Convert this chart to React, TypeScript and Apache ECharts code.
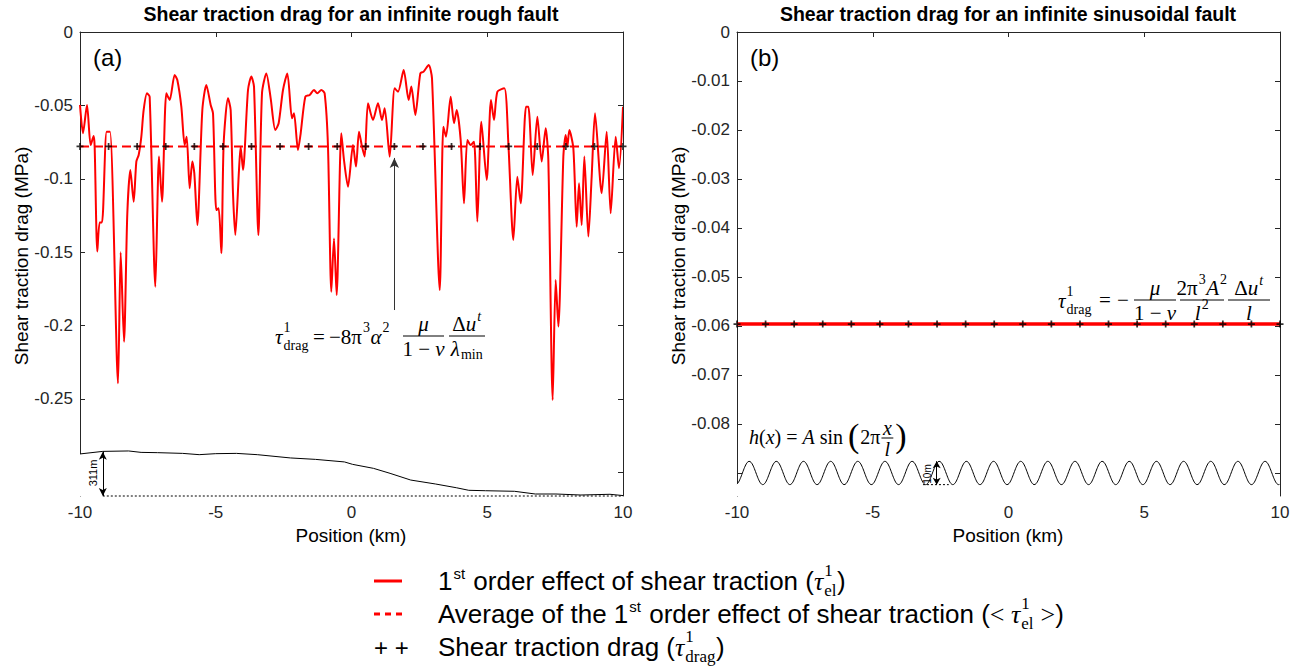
import React, { useEffect, useRef } from "react";
import * as echarts from "echarts";

// ---------- data ----------
const roughKm = [-10.0, -9.89, -9.742, -9.607, -9.497, -9.46, -9.362, -9.276, -9.19, -9.018, -8.895, -8.6, -8.502, -8.379, -8.257, -8.146, -8.023, -7.925, -7.839, -7.741, -7.655, -7.532, -7.434, -7.225, -7.09, -6.98, -6.82, -6.697, -6.513, -6.415, -6.268, -6.145, -6.071, -5.961, -5.862, -5.789, -5.678, -5.494, -5.347, -5.187, -5.101, -4.979, -4.893, -4.794, -4.708, -4.549, -4.451, -4.365, -4.279, -4.144, -4.083, -3.996, -3.812, -3.689, -3.591, -3.43, -3.297, -3.137, -2.977, -2.806, -2.683, -2.523, -2.364, -2.192, -2.118, -1.971, -1.872, -1.701, -1.541, -1.381, -1.259, -1.111, -0.989, -0.866, -0.743, -0.645, -0.547, -0.375, -0.277, -0.129, 0.055, 0.166, 0.276, 0.387, 0.485, 0.608, 0.792, 0.976, 1.123, 1.222, 1.406, 1.59, 1.713, 1.921, 2.105, 2.204, 2.351, 2.535, 2.658, 2.842, 2.965, 3.25, 3.383, 3.481, 3.653, 3.776, 3.874, 4.021, 4.144, 4.267, 4.39, 4.512, 4.635, 4.782, 4.979, 5.138, 5.249, 5.372, 5.63, 5.777, 5.961, 6.108, 6.231, 6.428, 6.514, 6.673, 6.845, 7.005, 7.152, 7.25, 7.41, 7.52, 7.619, 7.803, 7.889, 7.95, 8.024, 8.171, 8.294, 8.38, 8.478, 8.576, 8.724, 8.846, 8.969, 9.215, 9.399, 9.546, 9.73, 9.853, 10.0];
const roughTau = [-0.0497, -0.069, -0.0497, -0.077, -0.0709, -0.0781, -0.1496, -0.1297, -0.1297, -0.0679, -0.0679, -0.2393, -0.1501, -0.211, -0.1235, -0.094, -0.1156, -0.0883, -0.0838, -0.0713, -0.0531, -0.0418, -0.0441, -0.1735, -0.0849, -0.1156, -0.0418, -0.0463, -0.0293, -0.0327, -0.0509, -0.077, -0.0713, -0.1065, -0.0883, -0.0963, -0.1315, -0.0531, -0.0361, -0.0497, -0.0554, -0.1213, -0.1201, -0.1508, -0.0758, -0.0452, -0.0531, -0.1099, -0.1383, -0.094, -0.0781, -0.094, -0.0395, -0.0304, -0.0372, -0.1383, -0.0418, -0.0282, -0.0452, -0.0668, -0.0622, -0.0395, -0.0282, -0.0588, -0.0554, -0.0804, -0.069, -0.0441, -0.0429, -0.0395, -0.0418, -0.0395, -0.0418, -0.0781, -0.1769, -0.1406, -0.1792, -0.069, -0.0872, -0.1054, -0.077, -0.0917, -0.0679, -0.0781, -0.0849, -0.0486, -0.0599, -0.0486, -0.0599, -0.052, -0.0849, -0.0384, -0.0407, -0.0259, -0.0463, -0.0372, -0.0565, -0.0282, -0.027, -0.0225, -0.0316, -0.1758, -0.0645, -0.0713, -0.0441, -0.0622, -0.0531, -0.0736, -0.1167, -0.0736, -0.077, -0.0747, -0.1292, -0.0611, -0.1008, -0.0463, -0.0599, -0.0407, -0.0384, -0.0758, -0.1417, -0.0986, -0.1167, -0.0509, -0.0509, -0.0974, -0.0577, -0.0883, -0.0656, -0.0872, -0.2507, -0.1689, -0.2007, -0.0849, -0.0702, -0.0781, -0.0668, -0.0793, -0.1326, -0.1031, -0.1315, -0.0849, -0.1394, -0.0986, -0.0554, -0.1099, -0.0679, -0.1235, -0.0713, -0.0929, -0.0509];
const roughAvg = -0.078;
const roughDrag = -0.078;
const dragKm = [-10, -8.947, -7.895, -6.842, -5.789, -4.737, -3.684, -2.632, -1.579, -0.526, 0.526, 1.579, 2.632, 3.684, 4.737, 5.789, 6.842, 7.895, 8.947, 10];
const dragArrowKm = 1.579;

const topoKm = [-10, -9.16, -8.21, -7.75, -7.14, -6.22, -5.61, -5.0, -4.24, -3.47, -2.25, -1.33, -0.26, 0.04, 0.81, 1.42, 2.18, 3.1, 3.86, 4.32, 4.94, 6.0, 6.77, 7.53, 8.45, 9.52, 10];
const topoElevM = [295, 313, 316, 306, 304, 299, 290, 297, 299, 290, 267, 257, 239, 222, 194, 159, 112, 84, 58, 40, 37, 33, 14, 14, 7, 12, 3];
const topoReliefM = 311;
const topoReliefKm = -9.16;

const sinTau = -0.0596;
const sinDrag = -0.0596;
const sinAmpM = 5; // h(x) = A sin(2 pi x / l), 10 m peak to peak
const sinWaveKm = 1;
const sinPhaseKm = -9.8;
const sinArrowKm = -2.645;

const xTicks = [-10, -5, 0, 5, 10];
const yLabelsA = [0, -0.05, -0.1, -0.15, -0.2, -0.25];
const yTicksA = [0, -0.05, -0.1, -0.15, -0.2, -0.25, -0.3];
const yLabelsB = [0, -0.01, -0.02, -0.03, -0.04, -0.05, -0.06, -0.07, -0.08];
const yTicksB = [0, -0.01, -0.02, -0.03, -0.04, -0.05, -0.06, -0.07, -0.08, -0.09];

// ---------- display scaling of profiles inside the stress axes ----------
const yMinA = -0.3161;
const yMinB = -0.0947;
const topoScale = 0.0302 / 311; // axis units per metre
const sinBase = -0.09;
const sinScale = 0.00238 / 5; // axis units per metre

const RED = "#ff0000";
const AX = "#262626";
const SERIF = '"Liberation Serif", "Times New Roman", serif';
const SANS = '"Liberation Sans", Arial, Helvetica, sans-serif';

// ---------- text helpers ----------
type Seg = { t?: string; s: number; it?: boolean; f?: string; dy?: number; sup?: string; sub?: string; ss?: number; supDy?: number; subDy?: number; pad?: number; supIt?: boolean };
let ctx: CanvasRenderingContext2D | null = null;
function fontOf(s: number, it?: boolean, f?: string, bold?: boolean) {
  return `${it ? "italic " : ""}${bold ? "bold " : ""}${s}px ${f ?? SERIF}`;
}
function tw(t: string, font: string) {
  if (!ctx) ctx = document.createElement("canvas").getContext("2d");
  ctx!.font = font;
  return ctx!.measureText(t).width;
}
function T(x: number, y: number, t: string, font: string, o: any = {}) {
  return {
    type: "text", x, y, rotation: o.rot ?? 0, silent: true, z: 50,
    style: { text: t, font, fill: o.fill ?? "#000", textAlign: o.align ?? "left", textVerticalAlign: o.va ?? "middle", align: o.align ?? "left", verticalAlign: o.va ?? "middle" },
  };
}
function L(x1: number, y1: number, x2: number, y2: number, stroke: string, w: number, dash?: number[]) {
  return { type: "line", silent: true, z: 50, shape: { x1, y1, x2, y2 }, style: { stroke, lineWidth: w, lineDash: dash } };
}
function segW(g: Seg) {
  if (g.sup !== undefined || g.sub !== undefined) {
    const sz = g.ss ?? g.s * 0.65;
    const a = g.sup ? tw(g.sup, fontOf(sz, g.supIt, g.f)) : 0;
    const b = g.sub ? tw(g.sub, fontOf(sz, false, g.f)) : 0;
    return Math.max(a, b) + (g.pad ?? 1.5);
  }
  return tw(g.t!, fontOf(g.s, g.it, g.f)) + (g.pad ?? 0);
}
function seqW(segs: Seg[]) {
  return segs.reduce((a, g) => a + segW(g), 0);
}
function seq(x: number, y: number, segs: Seg[], out: any[]) {
  let cx = x;
  for (const g of segs) {
    if (g.sup !== undefined || g.sub !== undefined) {
      const sz = g.ss ?? g.s * 0.65;
      if (g.sup) out.push(T(cx + 1, y + (g.supDy ?? -g.s * 0.42), g.sup, fontOf(sz, g.supIt, g.f)));
      if (g.sub) out.push(T(cx + 1, y + (g.subDy ?? g.s * 0.38), g.sub, fontOf(sz, false, g.f)));
    } else {
      out.push(T(cx, y + (g.dy ?? 0), g.t!, fontOf(g.s, g.it, g.f)));
    }
    cx += segW(g);
  }
  return cx;
}
function frac(cx: number, yb: number, num: Seg[], den: Seg[], x1: number, x2: number, out: any[], nDy = -12, dDy = 13) {
  out.push(L(x1, yb, x2, yb, "#000", 1));
  seq(cx - seqW(num) / 2, yb + nDy, num, out);
  seq(cx - seqW(den) / 2, yb + dDy, den, out);
}

function buildGraphics() {
  const g: any[] = [];
  // titles
  g.push(T(351, 14, "Shear traction drag for an infinite rough fault", fontOf(19.5, false, SANS, true), { align: "center" }));
  g.push(T(1008, 14, "Shear traction drag for an infinite sinusoidal fault", fontOf(19.5, false, SANS, true), { align: "center" }));
  // axis names
  g.push(T(21, 256, "Shear traction drag (MPa)", fontOf(19, false, SANS), { align: "center", rot: Math.PI / 2 }));
  g.push(T(678, 256, "Shear traction drag (MPa)", fontOf(19, false, SANS), { align: "center", rot: Math.PI / 2 }));
  g.push(T(351, 535, "Position (km)", fontOf(19, false, SANS), { align: "center" }));
  g.push(T(1008, 535, "Position (km)", fontOf(19, false, SANS), { align: "center" }));
  // panel letters
  g.push(T(93, 57, "(a)", fontOf(24, false, SANS)));
  g.push(T(750, 57, "(b)", fontOf(24, false, SANS)));
  // small annotation labels
  g.push(T(93, 473, "311m", fontOf(11, false, SANS), { align: "center", rot: Math.PI / 2 }));
  g.push(T(927, 474, "10m", fontOf(10, false, SANS), { align: "center", rot: Math.PI / 2 }));

  const S = 21;
  // left formula
  seq(275, 337, [{ t: "τ", s: S, it: true }, { sup: "1", sub: "drag", s: S, ss: 14, supDy: -10, subDy: 8 }], g);
  seq(313, 337, [{ t: "=", s: S }], g);
  seq(329, 337, [{ t: "−8π", s: S }, { sup: "3", s: S, ss: 14, supDy: -10 }, { t: "α", s: S, it: true }, { sup: "2", s: S, ss: 14, supDy: -10 }], g);
  frac(423.5, 336, [{ t: "μ", s: S, it: true }], [{ t: "1 − ", s: S }, { t: "ν", s: S, it: true }], 403, 444, g);
  frac(467, 336, [{ t: "Δ", s: S }, { t: "u", s: S, it: true }, { sup: "t", s: S, ss: 14, supDy: -8, supIt: true }], [{ t: "λ", s: S, it: true }, { sub: "min", s: S, ss: 14, subDy: 5 }], 449, 485, g);

  // right formula
  seq(1058, 301, [{ t: "τ", s: S, it: true }, { sup: "1", sub: "drag", s: S, ss: 14, supDy: -10, subDy: 8 }], g);
  seq(1099, 300, [{ t: "=", s: S }], g);
  seq(1117, 300, [{ t: "−", s: S }], g);
  frac(1155, 300, [{ t: "μ", s: S, it: true }], [{ t: "1 − ", s: S }, { t: "ν", s: S, it: true }], 1134, 1176, g);
  frac(1202, 300, [{ t: "2π", s: S }, { sup: "3", s: S, ss: 14, supDy: -9 }, { t: "A", s: S, it: true }, { sup: "2", s: S, ss: 14, supDy: -9 }], [{ t: "l", s: S, it: true }, { sup: "2", s: S, ss: 14, supDy: -9 }], 1180, 1224, g);
  frac(1249, 300, [{ t: "Δ", s: S }, { t: "u", s: S, it: true }, { sup: "t", s: S, ss: 14, supDy: -8, supIt: true }], [{ t: "l", s: S, it: true }], 1228, 1270, g);

  // h(x) formula
  let p = seq(749, 437, [{ t: "h", s: 20, it: true }, { t: "(", s: 20 }, { t: "x", s: 20, it: true }, { t: ") = ", s: 20 }, { t: "A", s: 20, it: true }, { t: " sin ", s: 20 }], g);
  p = seq(p, 435, [{ t: "(", s: 34 }], g);
  p = seq(p + 1, 437, [{ t: "2π", s: 20 }], g);
  const fw = tw("x", fontOf(20, true)) + 3;
  frac(p + 1 + fw / 2, 438, [{ t: "x", s: 20, it: true }], [{ t: "l", s: 20, it: true }], p + 1, p + 1 + fw, g, -10, 11);
  seq(p + fw + 3, 435, [{ t: ")", s: 34 }], g);

  // legend
  const LS = 26;
  const sup1 = (sub: string): Seg => ({ sup: "1", sub, s: LS, ss: 17, supDy: -11, subDy: 9 });
  g.push(L(374, 581, 402, 581, RED, 3));
  seq(438, 581, [{ t: "1", s: LS, f: SANS }, { sup: "st", s: LS, ss: 15, f: SANS, supDy: -8, pad: 2 }, { t: " order effect of shear traction (", s: LS, f: SANS }, { t: "τ", s: LS, it: true }, sup1("el"), { t: ")", s: LS, f: SANS }], g);
  g.push(L(374, 614, 402, 614, RED, 3, [6, 5]));
  seq(438, 614, [{ t: "Average of the 1", s: LS, f: SANS }, { sup: "st", s: LS, ss: 15, f: SANS, supDy: -8, pad: 2 }, { t: " order effect of shear traction (", s: LS, f: SANS }, { t: "< ", s: LS }, { t: "τ", s: LS, it: true }, sup1("el"), { t: " >", s: LS }, { t: ")", s: LS, f: SANS }], g);
  g.push(T(374, 647, "+ +", fontOf(24, false, SANS)));
  seq(438, 647, [{ t: "Shear traction drag (", s: LS, f: SANS }, { t: "τ", s: LS, it: true }, sup1("drag"), { t: ")", s: LS, f: SANS }], g);
  return g;
}

const fmt = (v: number) => (Math.abs(v) < 1e-12 ? "0" : String(parseFloat(v.toFixed(3))));
const PLUS = "path://M3,0L5,0L5,3L8,3L8,5L5,5L5,8L3,8L3,5L0,5L0,3L3,3Z";

function xAx(grid: number, pos: string, labels: boolean) {
  return {
    type: "value", gridIndex: grid, position: pos, min: -10, max: 10, interval: 5,
    axisLine: { show: pos === "top", onZero: false, lineStyle: { color: AX, width: 1 } },
    axisTick: { show: pos === "top", inside: true, length: 5, lineStyle: { color: AX } },
    axisLabel: { show: labels, fontSize: 17, color: AX, margin: 8, fontFamily: SANS, customValues: xTicks },
    splitLine: { show: false },
  };
}
function yAx(grid: number, pos: string, min: number, labels: number[], ticks: number[], show: boolean, z = 0) {
  return {
    type: "value", gridIndex: grid, position: pos, min, max: 0, z,
    axisLine: { show: true, onZero: false, lineStyle: { color: AX, width: 1 } },
    axisTick: { show: true, inside: true, length: 5, customValues: ticks, lineStyle: { color: AX } },
    axisLabel: { show, customValues: labels, fontSize: 17, color: AX, margin: 7, fontFamily: SANS, formatter: fmt },
    splitLine: { show: false },
  };
}

function buildOption() {
  const rough = roughKm.map((x, i) => [x, roughTau[i]]);
  const topo = topoKm.map((x, i) => [x, yMinA + topoElevM[i] * topoScale]);
  const sine: number[][] = [];
  for (let i = 0; i <= 1000; i++) {
    const x = -10 + i * 0.02;
    sine.push([x, sinBase + sinScale * sinAmpM * Math.sin((2 * Math.PI * (x - sinPhaseKm)) / sinWaveKm)]);
  }
  const sinTop = sinBase + sinScale * sinAmpM;
  const sinBot = sinBase - sinScale * sinAmpM;
  const noLabel = { show: false };
  return {
    animation: false,
    backgroundColor: "#fff",
    grid: [
      { left: 80, top: 32, width: 543, height: 464, containLabel: false },
      { left: 737, top: 32, width: 543, height: 464, containLabel: false },
    ],
    xAxis: [xAx(0, "bottom", true), xAx(0, "top", false), xAx(1, "bottom", true), xAx(1, "top", false)],
    yAxis: [
      yAx(0, "left", yMinA, yLabelsA, yTicksA, true),
      yAx(0, "right", yMinA, yLabelsA, yTicksA, false, 10),
      yAx(1, "left", yMinB, yLabelsB, yTicksB, true),
      yAx(1, "right", yMinB, yLabelsB, yTicksB, false),
    ],
    series: [
      {
        name: "topo", type: "line", xAxisIndex: 0, yAxisIndex: 0, data: topo, showSymbol: false, z: 2,
        lineStyle: { color: "#000", width: 1 }, areaStyle: { color: "#fff", opacity: 1, origin: "start" },
      },
      {
        name: "baseline", type: "line", xAxisIndex: 0, yAxisIndex: 0, clip: false, showSymbol: false, z: 4,
        data: [[topoReliefKm, yMinA], [10, yMinA]], lineStyle: { color: "#000", width: 1, type: [2, 2] },
        markLine: {
          silent: true, symbol: ["arrow", "arrow"], symbolSize: [6, 8], label: noLabel,
          lineStyle: { color: "#000", width: 1, type: "solid" },
          data: [[{ coord: [topoReliefKm, yMinA] }, { coord: [topoReliefKm, yMinA + topoReliefM * topoScale] }]],
        },
      },
      {
        name: "tau_el", type: "line", xAxisIndex: 0, yAxisIndex: 0, data: rough, showSymbol: false, smooth: 0.25, z: 3,
        lineStyle: { color: RED, width: 2 },
        markLine: {
          silent: true, symbol: ["none", "arrow"], symbolSize: [7, 10], label: noLabel,
          lineStyle: { color: "#333", width: 1, type: "solid" },
          data: [[{ coord: [dragArrowKm, -0.1894] }, { coord: [dragArrowKm, -0.0858] }]],
        },
      },
      {
        name: "avg", type: "line", xAxisIndex: 0, yAxisIndex: 0, showSymbol: false, z: 4,
        data: [[-10, roughAvg], [10, roughAvg]], lineStyle: { color: RED, width: 2, type: [9, 5] },
      },
      {
        name: "drag", type: "scatter", xAxisIndex: 0, yAxisIndex: 0, symbol: PLUS, symbolSize: 7, z: 6,
        itemStyle: { color: "#000" }, data: dragKm.map((x) => [x, roughDrag]),
      },
      {
        name: "sine", type: "line", xAxisIndex: 2, yAxisIndex: 2, data: sine, showSymbol: false, z: 2,
        lineStyle: { color: "#000", width: 1 }, areaStyle: { color: "#fff", opacity: 1, origin: "start" },
      },
      {
        name: "sineAnno", type: "line", xAxisIndex: 2, yAxisIndex: 2, showSymbol: false, z: 4,
        data: [[-3.15, sinBot], [-2.2, sinBot]], lineStyle: { color: "#000", width: 1, type: [2, 2] },
        markLine: {
          silent: true, symbol: ["arrow", "arrow"], symbolSize: [6, 7], label: noLabel,
          lineStyle: { color: "#000", width: 1, type: "solid" },
          data: [[{ coord: [sinArrowKm, sinBot] }, { coord: [sinArrowKm, sinTop] }]],
        },
      },
      {
        name: "tau_el_b", type: "line", xAxisIndex: 2, yAxisIndex: 2, showSymbol: false, z: 3,
        data: [[-10, sinTau], [10, sinTau]], lineStyle: { color: RED, width: 3.5 },
      },
      {
        name: "drag_b", type: "scatter", xAxisIndex: 2, yAxisIndex: 2, symbol: PLUS, symbolSize: 7, z: 6,
        itemStyle: { color: "#000" }, data: dragKm.map((x) => [x, sinDrag]),
      },
    ],
    graphic: buildGraphics(),
  };
}

export default function App() {
  const ref = useRef<HTMLDivElement>(null);
  useEffect(() => {
    const chart = echarts.init(ref.current!, null, { renderer: "svg" });
    chart.setOption(buildOption() as any);
    return () => chart.dispose();
  }, []);
  return <div ref={ref} style={{ position: "absolute", left: 0, top: 0, width: 1304, height: 667, background: "#fff" }} />;
}
